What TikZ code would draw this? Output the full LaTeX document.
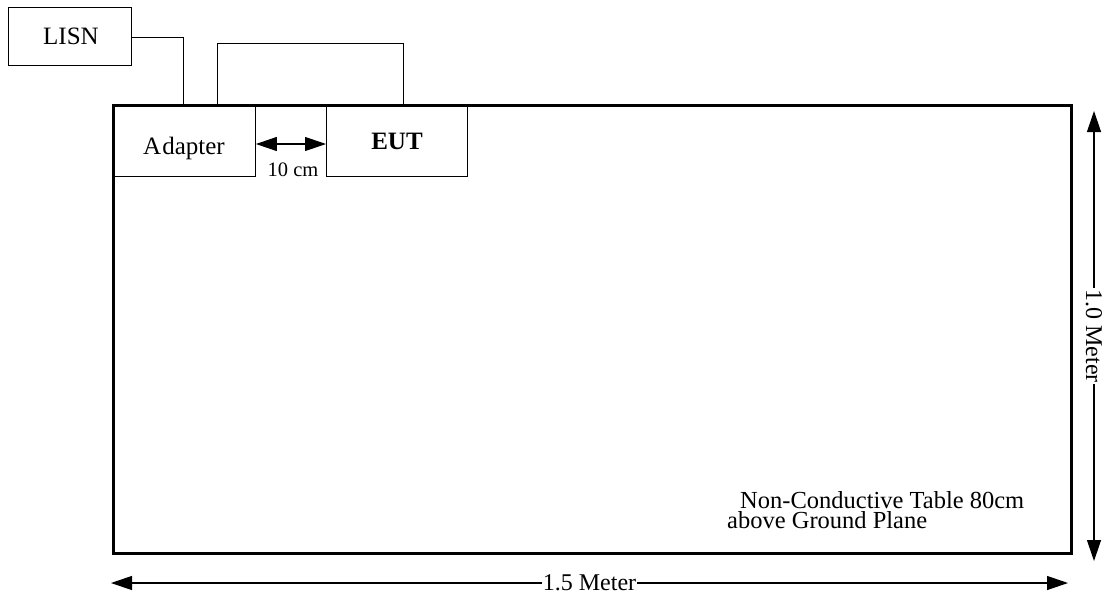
\documentclass[tikz,border=0pt]{standalone}
\usepackage{fontspec}
\setmainfont{Liberation Serif}
\usetikzlibrary{arrows.meta}
\tikzset{
  thinline/.style={line width=0.9pt},
  boxnode/.style={draw, line width=0.9pt, inner sep=0pt, anchor=north west},
  dimarrow/.style={line width=1.2pt, {Triangle[length=21pt,width=14pt]}-{Triangle[length=21pt,width=14pt]}},
  lbl/.style={font=\fontsize{25}{19}\selectfont, inner sep=0pt, anchor=base},
  dimlbl/.style={font=\fontsize{24}{24}\selectfont, inner sep=1pt},
}
\begin{document}
\begin{tikzpicture}[x=1pt,y=-1pt]
\useasboundingbox (0,0) rectangle (1105,600);
% LISN
\node[boxnode, minimum width=123pt, minimum height=58pt] (lisn) at (8,7) {};
\node[lbl] (lisnt) at (71,44) {LISN};
% Adapter and EUT
\node[boxnode, minimum width=143pt, minimum height=72pt] (adapter) at (112,104) {};
\node[lbl] (adaptert) at (184,154) {A\kern1pt dapter};
\node[boxnode, minimum width=141pt, minimum height=72pt] (eut) at (326,104) {};
\node[lbl, font=\fontsize{25}{19}\selectfont\bfseries] (eutt) at (397,149) {EUT};
% table
\node[draw, line width=2.6pt, minimum width=958pt, minimum height=448pt, anchor=north west, inner sep=0pt] (table) at (112,104) {};
% cables
\coordinate (c1) at (183,104);
\coordinate (c2) at (217,104);
\coordinate (c3) at (403,104);
\draw[thinline] (lisn.east |- 0,37) -| (c1);
\draw[thinline] (c2) |- (403,43) -- (c3);
% 10 cm
\draw[dimarrow] (adapter.east |- 0,144) -- (eut.west |- 0,144);
\node[anchor=base, inner sep=0pt, font=\fontsize{20.5}{20}\selectfont] (tencm) at (293,176) {10 cm};
% dimensions
\coordinate (r1) at (1094,111);
\coordinate (r2) at (1094,561);
\draw[dimarrow] (r1) -- (r2) node[midway, dimlbl, fill=white, rotate=-90] (onem) {1.0 Meter};
\coordinate (b1) at (111,583);
\coordinate (b2) at (1068,583);
\draw[dimarrow] (b1) -- (b2) node[midway, dimlbl, fill=white] (onefive) {1.5 Meter};
% table text
\node[inner sep=0pt, anchor=base west, align=left, font=\fontsize{24.5}{20}\selectfont] (tabletext) at (727,528)
  {\hspace*{13pt}Non-Conductive Table 80cm\\above Ground Plane};
\end{tikzpicture}
\end{document}
